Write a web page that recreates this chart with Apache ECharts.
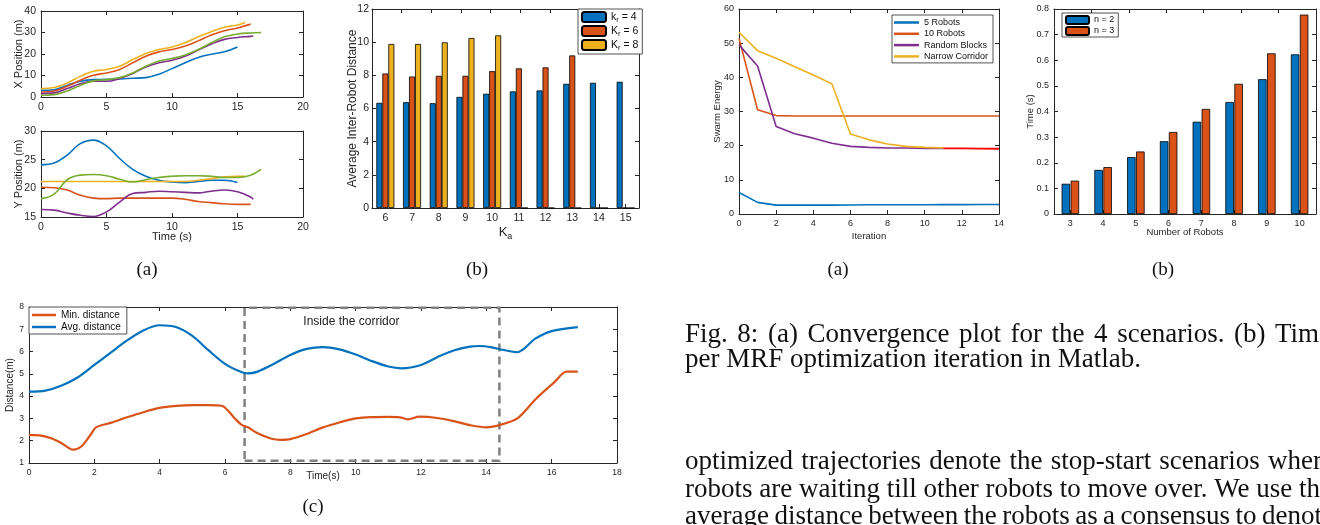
<!DOCTYPE html>
<html lang="en">
<head>
<meta charset="UTF-8">
<title>Swarm trajectories and convergence</title>
<script src="https://cdn.jsdelivr.net/npm/echarts@6/dist/echarts.min.js"></script>
<style>
  html, body { margin: 0; padding: 0; background: #fff; }
  #main { width: 1320px; height: 525px; }
</style>
</head>
<body>
<div id="main"></div>
<script>
// ---- data ----
// left (a): x / y position of every robot against time
var tBlue   = [0,1,2,3,4,5,6,7,8,9,10,11,12,13,14,15];
var xBlue   = [3.1,3.4,5.4,7.3,8.1,8.2,8.4,8.7,9.0,10.6,13.2,15.9,18.4,19.9,21.0,23.3];
var yBlue   = [24.1,24.4,25.8,27.8,28.4,27.4,25.2,23.3,22.1,21.4,21.1,21.0,21.2,21.4,21.4,21.0];
var tOrange = [0,1,2,3,4,5,6,7,8,9,10,11,12,13,14,15,16];
var xOrange = [2.3,2.8,5.0,7.8,10.1,11.2,12.8,15.9,19.0,21.0,22.1,23.7,26.1,28.8,30.8,32.1,33.9];
var yOrange = [20.2,20.1,19.7,18.8,18.3,18.2,18.3,18.3,18.3,18.3,18.3,18.1,17.7,17.5,17.3,17.2,17.2];
var tYellow = [0,1,2,3,4,5,6,7,8,9,10,11,12,13,14,15,15.6];
var xYellow = [3.9,4.4,6.5,9.6,12.0,12.8,14.3,17.4,20.2,22.1,23.3,25.2,28.0,30.4,32.4,33.5,34.8];
var yYellow = [21.2,21.2,21.2,21.2,21.2,21.2,21.2,21.2,21.2,21.2,21.2,21.2,21.4,21.7,22.0,22.1,22.1];
var tPurple = [0,1,2,3,4,5,6,7,8,9,10,11,12,13,14,15,16,16.2];
var xPurple = [1.6,1.9,3.9,6.2,7.3,7.3,8.6,10.9,14.0,15.9,17.1,19.0,21.8,24.6,26.8,27.7,28.2,28.4];
var yPurple = [16.3,16.2,15.7,15.3,15.1,15.9,17.6,19.1,19.3,19.5,19.4,19.3,19.2,19.5,19.7,19.4,18.5,18.1];
var tGreen  = [0,1,2,3,4,5,6,7,8,9,10,11,12,13,14,15,16,16.8];
var xGreen  = [0.8,1.1,2.8,5.4,7.5,8.1,9.0,11.2,14.3,16.7,17.9,19.5,22.1,25.2,28.0,29.3,29.8,30.0];
var yGreen  = [18.2,19.0,21.5,22.3,22.4,22.2,21.6,21.1,21.5,21.9,22.1,22.2,22.2,22.1,21.9,21.9,22.3,23.3];

// left (b): average inter-robot distance per K_a
var kaCats = ['6','7','8','9','10','11','12','13','14','15'];
var kr4 = [6.34,6.38,6.32,6.7,6.89,7.03,7.09,7.49,7.55,7.61];
var kr6 = [8.11,7.93,7.97,7.97,8.25,8.42,8.48,9.2,0,0];
var kr8 = [9.89,9.89,9.99,10.25,10.41,0,0,0,0,0];

// left (c): min / avg distance against time
var tAvg = [0,0.5,1,1.5,2,2.5,3,3.5,4,4.5,5,5.5,6,6.5,6.7,7,7.5,8,8.5,9,9.5,10,10.5,11,11.4,12,12.5,13,13.5,13.8,14.2,14.5,14.95,15.5,16,16.8];
var dAvg = [4.2,4.25,4.48,4.85,5.4,5.95,6.5,6.95,7.18,7.1,6.7,6.05,5.45,5.08,5.02,5.1,5.45,5.85,6.12,6.2,6.1,5.87,5.57,5.33,5.25,5.4,5.75,6.05,6.22,6.25,6.18,6.08,5.97,6.58,6.92,7.1];
var tMin = [0,0.4,0.7,1,1.35,1.6,1.9,2.05,2.5,3,3.5,4,4.5,5,5.5,5.9,6.3,6.5,6.7,7,7.4,7.7,8,8.5,9,9.5,10,10.5,11,11.35,11.6,11.95,12.5,13,13.5,14,14.45,14.95,15.5,16.1,16.45,16.8];
var dMin = [2.26,2.22,2.1,1.89,1.6,1.74,2.3,2.6,2.8,3.05,3.28,3.47,3.56,3.6,3.6,3.57,3.0,2.72,2.6,2.33,2.1,2.04,2.07,2.3,2.6,2.82,3.0,3.06,3.07,3.05,2.96,3.08,3.02,2.88,2.7,2.6,2.72,3.0,3.85,4.65,5.1,5.1];
var corridorT = [6.6, 14.4];
var corridorD = [1.1, 7.97];

// right (a): swarm energy per iteration
var iters     = [0,1,2,3,4,5,6,7,8,9,10,11,12,13,14];
var e5        = [6.3,3.4,2.6,2.6,2.6,2.6,2.65,2.7,2.7,2.7,2.7,2.75,2.75,2.8,2.8];
var e10       = [51.4,30.5,28.8,28.7,28.7,28.7,28.7,28.7,28.7,28.7,28.7,28.7,28.7,28.7,28.7];
var eBlocks   = [49.5,43.3,25.6,23.5,22.2,20.7,19.8,19.5,19.3,19.3,19.2,19.2];
var eCorridor = [53.2,47.8,45.6,43.1,40.7,38.1,23.4,21.7,20.5,19.8,19.5,19.3];
var tailIters = [11,12,13,14];
var eTail     = [19.2,19.2,19.15,19.1];

// right (b): time per MRF iteration
var robotCats = ['3','4','5','6','7','8','9','10'];
var n2 = [0.118,0.172,0.222,0.284,0.36,0.437,0.526,0.623];
var n3 = [0.13,0.183,0.244,0.32,0.41,0.508,0.627,0.778];

// ---- styling ----
var AX = '#262626';
var SANS = '"Liberation Sans", Arial, sans-serif';
var SERIF = '"Liberation Serif", "Times New Roman", serif';
var BLUE = '#0072BD', ORANGE = '#D95319', YELLOW = '#EDB120', PURPLE = '#7E2F8E', GREEN = '#77AC30';

function merge(a, b) {
  var out = {};
  [a, b].forEach(function (src) {
    for (var k in src) {
      if (src[k] && typeof src[k] === 'object' && !Array.isArray(src[k]) && out[k] && typeof out[k] === 'object') {
        out[k] = merge(out[k], src[k]);
      } else {
        out[k] = src[k];
      }
    }
  });
  return out;
}

function pairs(xs, ys) {
  return xs.map(function (x, i) { return [x, ys[i]]; });
}

var grids = [], xAxes = [], yAxes = [];

function axisBase(fs) {
  return {
    nameMoveOverlap: false,
    axisLine: { show: true, onZero: false, lineStyle: { color: AX, width: 1 } },
    axisTick: { show: true, inside: true, length: 4, lineStyle: { color: AX } },
    axisLabel: { show: true, color: AX, fontSize: fs, fontFamily: SANS, margin: 5 },
    splitLine: { show: false },
    nameTextStyle: { color: AX, fontSize: fs, fontFamily: SANS }
  };
}

function mirror(a, pos) {
  return {
    gridIndex: a.gridIndex, type: a.type, position: pos,
    min: a.min, max: a.max, interval: a.interval, data: a.data, boundaryGap: a.boundaryGap,
    axisLine: a.axisLine, axisTick: a.axisTick,
    axisLabel: { show: false }, splitLine: { show: false }, silent: true
  };
}

// one MATLAB style box: bottom/left axes with labels, top/right axes mirrored
function panel(box, fs, xOpt, yOpt) {
  var g = grids.length;
  grids.push({ left: box[0], top: box[1], width: box[2], height: box[3], show: false, outerBoundsMode: 'none' });
  var xi = xAxes.length, yi = yAxes.length;
  var xa = merge(merge(axisBase(fs), { gridIndex: g, type: 'value', position: 'bottom' }), xOpt);
  var ya = merge(merge(axisBase(fs), { gridIndex: g, type: 'value', position: 'left' }), yOpt);
  xAxes.push(xa, mirror(xa, 'top'));
  yAxes.push(ya, mirror(ya, 'right'));
  return { x: xi, y: yi };
}

var yName = { nameLocation: 'middle', nameRotate: 90 };

var pX = panel([41, 11, 262, 86], 10.5,
  { min: 0, max: 20, interval: 5 },
  merge(yName, { min: 0, max: 40, interval: 10, name: 'X Position (m)', nameGap: 17, nameTextStyle: { fontSize: 11 } }));
var pY = panel([41, 131, 262, 86], 10.5,
  { min: 0, max: 20, interval: 5, name: 'Time (s)', nameLocation: 'middle', nameGap: 14, nameTextStyle: { fontSize: 11 } },
  merge(yName, { min: 15, max: 30, interval: 5, name: 'Y Position (m)', nameGap: 17, nameTextStyle: { fontSize: 11 } }));
var pB = panel([372, 9, 267, 199], 10.5,
  { type: 'category', data: kaCats, axisTick: { alignWithLabel: true }, axisLabel: { interval: 0 },
    name: '{b|K}{s|a}', nameLocation: 'middle', nameGap: 15,
    nameTextStyle: { rich: { b: { fontSize: 13, color: AX, fontFamily: SANS }, s: { fontSize: 9, color: AX, fontFamily: SANS, padding: [9, 0, 0, 0] } } } },
  merge(yName, { min: 0, max: 12, interval: 2, name: 'Average Inter-Robot Distance', nameGap: 13,
    axisLabel: { margin: 3 }, nameTextStyle: { fontSize: 12 } }));
var pC = panel([29, 307, 588, 156], 8.5,
  { min: 0, max: 18, interval: 2, name: 'Time(s)', nameLocation: 'middle', nameGap: 8, nameTextStyle: { fontSize: 10 } },
  merge(yName, { min: 1, max: 8, interval: 1, name: 'Distance(m)', nameGap: 14, nameTextStyle: { fontSize: 10 } }));
var pE = panel([739, 9, 260, 205], 9,
  { min: 0, max: 14, interval: 2, name: 'Iteration', nameLocation: 'middle', nameGap: 17, nameTextStyle: { fontSize: 9.5 } },
  merge(yName, { min: 0, max: 60, interval: 10, name: 'Swarm Energy', nameGap: 17, nameTextStyle: { fontSize: 9.5 } }));
var pT = panel([1054, 9, 262, 205], 9,
  { type: 'category', data: robotCats, axisTick: { alignWithLabel: true }, axisLabel: { interval: 0 },
    name: 'Number of Robots', nameLocation: 'middle', nameGap: 13, nameTextStyle: { fontSize: 9.5 } },
  merge(yName, { min: 0, max: 0.8, interval: 0.1, name: 'Time (s)', nameGap: 19, nameTextStyle: { fontSize: 9.5 } }));

function line(p, name, xs, ys, color, width, smooth) {
  return {
    type: 'line', name: name, xAxisIndex: p.x, yAxisIndex: p.y,
    data: pairs(xs, ys), showSymbol: false, symbol: 'none', smooth: smooth,
    lineStyle: { color: color, width: width }, itemStyle: { color: color }, z: 3
  };
}

function bar(p, name, vals, color, width, gap) {
  return {
    type: 'bar', name: name, xAxisIndex: p.x, yAxisIndex: p.y, data: vals,
    barWidth: width, barGap: gap,
    itemStyle: { color: color, borderColor: '#000', borderWidth: 0.8 }
  };
}

var series = [];
// left (a)
series.push(
  line(pX, 'xb', tBlue, xBlue, BLUE, 1.6, 0.4),
  line(pX, 'xo', tOrange, xOrange, ORANGE, 1.6, 0.4),
  line(pX, 'xy', tYellow, xYellow, YELLOW, 1.6, 0.4),
  line(pX, 'xp', tPurple, xPurple, PURPLE, 1.6, 0.4),
  line(pX, 'xg', tGreen, xGreen, GREEN, 1.6, 0.4),
  line(pY, 'yb', tBlue, yBlue, BLUE, 1.6, 0.4),
  line(pY, 'yo', tOrange, yOrange, ORANGE, 1.6, 0.4),
  line(pY, 'yy', tYellow, yYellow, YELLOW, 1.6, 0.4),
  line(pY, 'yp', tPurple, yPurple, PURPLE, 1.6, 0.4),
  line(pY, 'yg', tGreen, yGreen, GREEN, 1.6, 0.4)
);
// left (b)
series.push(
  bar(pB, 'kr4', kr4, BLUE, 6, '0%'),
  bar(pB, 'Kr6', kr6, ORANGE, 6, '0%'),
  bar(pB, 'Kr8', kr8, YELLOW, 6, '0%')
);
// left (c)
var minLine = line(pC, 'Min. distance', tMin, dMin, ORANGE, 2.2, 0.3);
minLine.markArea = {
  silent: true,
  itemStyle: { color: 'rgba(0,0,0,0)', borderColor: '#808080', borderWidth: 2.5, borderType: [8, 5] },
  label: { show: true, position: [60, 9], color: '#222', fontSize: 12, fontFamily: SANS },
  data: [[{ name: 'Inside the corridor', coord: [corridorT[0], corridorD[0]] }, { coord: [corridorT[1], corridorD[1]] }]]
};
series.push(minLine, line(pC, 'Avg. distance', tAvg, dAvg, BLUE, 2.2, 0.3));
// right (a)
series.push(
  line(pE, '5 Robots', iters, e5, BLUE, 1.6, false),
  line(pE, '10 Robots', iters, e10, ORANGE, 1.6, false),
  line(pE, 'Random Blocks', iters.slice(0, eBlocks.length), eBlocks, PURPLE, 1.6, false),
  line(pE, 'Narrow Corridor', iters.slice(0, eCorridor.length), eCorridor, YELLOW, 1.6, false),
  line(pE, 'tail', tailIters, eTail, '#FF0000', 1.8, false)
);
// right (b)
series.push(
  bar(pT, 'n = 2', n2, BLUE, 8.5, '6%'),
  bar(pT, 'n = 3', n3, ORANGE, 8.5, '6%')
);

function legendBox(names, left, top, opt) {
  return merge({
    data: names, left: left, top: top, orient: 'vertical', selectedMode: false,
    backgroundColor: '#fff', borderColor: AX, borderWidth: 0.8, borderRadius: 0,
    textStyle: { color: '#111', fontFamily: SANS }
  }, opt);
}

var legends = [
  legendBox(['kr4', 'Kr6', 'Kr8'], 578, 9, {
    itemWidth: 24, itemHeight: 10, itemGap: 1, padding: [2, 4, 2, 3],
    formatter: function (n) { return '{t|' + n.charAt(0) + '}{s|r}{t| = ' + n.slice(2) + '}'; },
    textStyle: { rich: { t: { fontSize: 10.5, fontFamily: SANS, color: '#111' }, s: { fontSize: 7.5, fontFamily: SANS, color: '#111', padding: [6, 0, 0, 0] } } }
  }),
  legendBox(['Min. distance', 'Avg. distance'], 29, 307, {
    icon: 'rect', itemWidth: 24, itemHeight: 2.5, itemGap: 2, padding: [3, 6, 2, 3],
    textStyle: { fontSize: 10 }
  }),
  legendBox(['5 Robots', '10 Robots', 'Random Blocks', 'Narrow Corridor'], 892, 15, {
    icon: 'rect', itemWidth: 25, itemHeight: 2.5, itemGap: 2.3, padding: [3, 5, 2, 2],
    textStyle: { fontSize: 9 }
  }),
  legendBox(['n = 2', 'n = 3'], 1062, 13, {
    itemWidth: 23, itemHeight: 8, itemGap: 1, padding: [2, 4, 1, 3],
    textStyle: { fontSize: 9 }
  })
];

// ---- caption and body text (justified like the paper column) ----
var measureCtx = document.createElement('canvas').getContext('2d');
function textWidth(s, font) { measureCtx.font = font; return measureCtx.measureText(s).width; }

function textLine(text, x0, xLast, baseline, size) {
  var font = size + 'px ' + SERIF;
  var words = text.split(' ');
  var gap = textWidth(' ', font);
  if (xLast != null) {
    var sum = 0;
    for (var i = 0; i < words.length - 1; i++) sum += textWidth(words[i], font);
    gap = (xLast - x0 - sum) / (words.length - 1);
  }
  var x = x0, els = [];
  words.forEach(function (w) {
    els.push({
      type: 'text', x: x, y: baseline - size * 0.34, silent: true,
      style: { text: w, font: font, fill: '#111', textAlign: 'left', align: 'left', textVerticalAlign: 'middle', verticalAlign: 'middle' }
    });
    x += textWidth(w, font) + gap;
  });
  return els;
}

function label(text, cx, cy) {
  return {
    type: 'text', x: cx, y: cy, silent: true,
    style: { text: text, font: '19px ' + SERIF, fill: '#111', textAlign: 'center', align: 'center', textVerticalAlign: 'middle', verticalAlign: 'middle' }
  };
}

var graphics = [].concat(
  textLine('Fig. 8: (a) Convergence plot for the 4 scenarios. (b) Time', 685, 1275, 344, 27),
  textLine('per MRF optimization iteration in Matlab.', 685, null, 369, 27),
  textLine('optimized trajectories denote the stop-start scenarios where', 685, 1268, 471, 27),
  textLine('robots are waiting till other robots to move over. We use the', 685, 1299, 499, 27),
  textLine('average distance between the robots as a consensus to denote', 685, 1262, 526, 27),
  [label('(a)', 147, 270), label('(b)', 477, 270), label('(c)', 313, 507), label('(a)', 838, 270), label('(b)', 1163, 270)]
);

var chart = echarts.init(document.getElementById('main'));
chart.setOption({
  animation: false,
  backgroundColor: '#fff',
  tooltip: { show: false },
  grid: grids,
  xAxis: xAxes,
  yAxis: yAxes,
  legend: legends,
  series: series,
  graphic: { elements: graphics }
});
</script>
</body>
</html>
